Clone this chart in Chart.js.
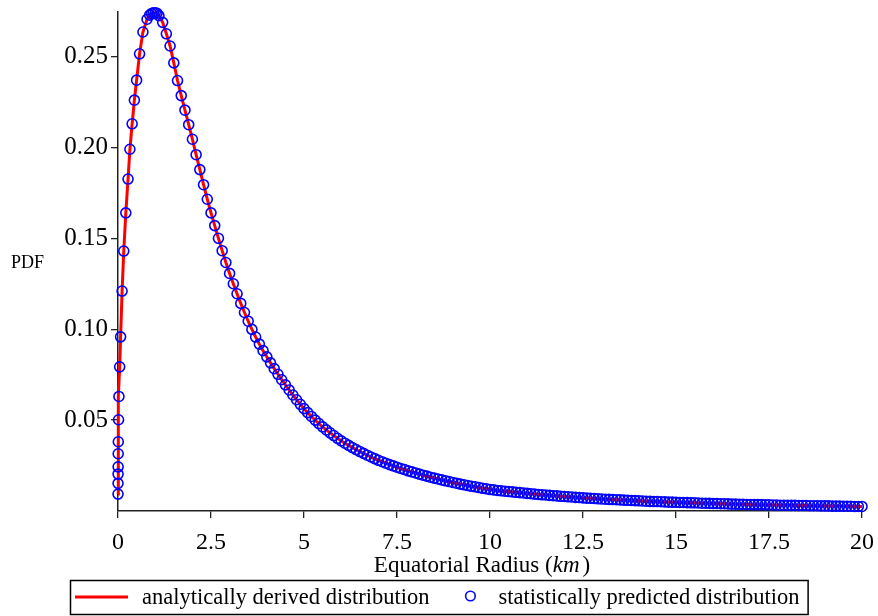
<!DOCTYPE html>
<html>
<head>
<meta charset="utf-8">
<script src="https://cdn.jsdelivr.net/npm/chart.js@4.4.1/dist/chart.umd.min.js"></script>
<style>
  html, body { margin: 0; padding: 0; background: #fff; }
</style>
</head>
<body>
<canvas id="chart" width="878" height="616"></canvas>
<script>
// radius (km) near zero and up to the peak
const radiusRise = [0.0005, 0.001, 0.002, 0.003, 0.005, 0.008, 0.015, 0.025, 0.045, 0.07,
  0.11, 0.155, 0.21, 0.27, 0.32, 0.38, 0.44, 0.50, 0.58, 0.67,
  0.78, 0.85, 0.90, 0.95, 1.0, 1.05];
const pdfRise = [0.0093, 0.0152, 0.0203, 0.0243, 0.0315, 0.0381, 0.0502, 0.063, 0.0793, 0.0958,
  0.121, 0.143, 0.164, 0.1826, 0.199, 0.213, 0.226, 0.237, 0.2515, 0.2635,
  0.2705, 0.2728, 0.2736, 0.274, 0.2741, 0.2738];

// radius (km) for the falling part and the tail
const radiusTail = [
  1.1, 1.2, 1.3, 1.4, 1.5, 1.6, 1.7, 1.8, 1.9, 2.0,
  2.1, 2.2, 2.3, 2.4, 2.5, 2.6, 2.7, 2.8, 2.9, 3.0,
  3.1, 3.2, 3.3, 3.4, 3.5, 3.6, 3.7, 3.8, 3.9, 4.0,
  4.1, 4.2, 4.3, 4.4, 4.5, 4.6, 4.7, 4.8, 4.9, 5.0,
  5.1, 5.2, 5.3, 5.4, 5.5, 5.6, 5.7, 5.8, 5.9, 6.0,
  6.1, 6.2, 6.3, 6.4, 6.5, 6.6, 6.7, 6.8, 6.9, 7.0,
  7.1, 7.2, 7.3, 7.4, 7.5, 7.6, 7.7, 7.8, 7.9, 8.0,
  8.1, 8.2, 8.3, 8.4, 8.5, 8.6, 8.7, 8.8, 8.9, 9.0,
  9.1, 9.2, 9.3, 9.4, 9.5, 9.6, 9.7, 9.8, 9.9, 10.0,
  10.1, 10.2, 10.3, 10.4, 10.5, 10.6, 10.7, 10.8, 10.9, 11.0,
  11.1, 11.2, 11.3, 11.4, 11.5, 11.6, 11.7, 11.8, 11.9, 12.0,
  12.1, 12.2, 12.3, 12.4, 12.5, 12.6, 12.7, 12.8, 12.9, 13.0,
  13.1, 13.2, 13.3, 13.4, 13.5, 13.6, 13.7, 13.8, 13.9, 14.0,
  14.1, 14.2, 14.3, 14.4, 14.5, 14.6, 14.7, 14.8, 14.9, 15.0,
  15.1, 15.2, 15.3, 15.4, 15.5, 15.6, 15.7, 15.8, 15.9, 16.0,
  16.1, 16.2, 16.3, 16.4, 16.5, 16.6, 16.7, 16.8, 16.9, 17.0,
  17.1, 17.2, 17.3, 17.4, 17.5, 17.6, 17.7, 17.8, 17.9, 18.0,
  18.1, 18.2, 18.3, 18.4, 18.5, 18.6, 18.7, 18.8, 18.9, 19.0,
  19.1, 19.2, 19.3, 19.4, 19.5, 19.6, 19.7, 19.8, 19.9, 20.0
];
const pdfTail = [
  0.2725, 0.2688, 0.2625, 0.2558, 0.2465, 0.2368, 0.2285, 0.2205, 0.2125, 0.2045,
  0.1960, 0.1878, 0.1795, 0.1715, 0.1640, 0.1570, 0.1500, 0.1432, 0.1367, 0.1307,
  0.1250, 0.1195, 0.1142, 0.1092, 0.1044, 0.0999, 0.0957, 0.0918, 0.0882, 0.0848,
  0.0815, 0.0783, 0.0752, 0.0722, 0.0694, 0.0666, 0.0638, 0.0612, 0.0587, 0.0563,
  0.0541, 0.0520, 0.0500, 0.0481, 0.0463, 0.0446, 0.0430, 0.0415, 0.0400, 0.0386,
  0.0373, 0.0361, 0.0349, 0.0338, 0.0327, 0.0317, 0.0307, 0.0297, 0.0288, 0.0279,
  0.0271, 0.0263, 0.0255, 0.0248, 0.0241, 0.0234, 0.0228, 0.0221, 0.0215, 0.0209,
  0.0203, 0.0197, 0.0192, 0.0186, 0.0181, 0.0176, 0.0171, 0.0166, 0.0162, 0.0157,
  0.0153, 0.0148, 0.0144, 0.0140, 0.0136, 0.0133, 0.0129, 0.0125, 0.0122, 0.0118,
  0.0116, 0.0113, 0.0111, 0.0109, 0.0107, 0.0105, 0.0103, 0.0101, 0.0099, 0.0097,
  0.0095, 0.0093, 0.0091, 0.0089, 0.0088, 0.0086, 0.0084, 0.0083, 0.0081, 0.0080,
  0.0078, 0.0077, 0.0075, 0.0074, 0.0072, 0.0071, 0.0070, 0.0069, 0.0067, 0.0066,
  0.0065, 0.0064, 0.0063, 0.0062, 0.0061, 0.0060, 0.0059, 0.0058, 0.0057, 0.0056,
  0.0055, 0.0054, 0.0053, 0.0052, 0.0052, 0.0051, 0.0050, 0.0049, 0.0049, 0.0048,
  0.0047, 0.0047, 0.0046, 0.0045, 0.0045, 0.0044, 0.0043, 0.0043, 0.0042, 0.0041,
  0.0041, 0.0040, 0.0040, 0.0039, 0.0038, 0.0038, 0.0037, 0.0037, 0.0036, 0.0036,
  0.0035, 0.0035, 0.0035, 0.0034, 0.0034, 0.0033, 0.0033, 0.0032, 0.0032, 0.0032,
  0.0031, 0.0031, 0.0030, 0.0030, 0.0030, 0.0029, 0.0029, 0.0029, 0.0028, 0.0028,
  0.0028, 0.0027, 0.0027, 0.0027, 0.0026, 0.0026, 0.0026, 0.0025, 0.0025, 0.0025
];

const xTicks = [0, 2.5, 5, 7.5, 10, 12.5, 15, 17.5, 20];
const xTickLabels = ['0', '2.5', '5', '7.5', '10', '12.5', '15', '17.5', '20'];
const yTicks = [0.05, 0.10, 0.15, 0.20, 0.25];
const yTickLabels = ['0.05', '0.10', '0.15', '0.20', '0.25'];

const lineLabel = 'analytically derived distribution';
const pointLabel = 'statistically predicted distribution';

const SERIF = '"Liberation Serif", "Times New Roman", serif';
const RED = '#ff0000';
const BLUE = '#0000ff';

const radius = radiusRise.concat(radiusTail);
const pdf = pdfRise.concat(pdfTail);
const points = radius.map((r, i) => ({ x: r, y: pdf[i] }));

// axis titles and the boxed legend under the plot
const extrasPlugin = {
  id: 'extras',
  afterDraw(chart) {
    const ctx = chart.ctx;
    const area = chart.chartArea;
    ctx.save();
    ctx.fillStyle = '#000';
    ctx.textBaseline = 'middle';

    // y title
    ctx.font = '18px ' + SERIF;
    ctx.textAlign = 'left';
    ctx.fillText('PDF', 11, (area.top + area.bottom) / 2 + 2);

    // x title with italic unit
    const partA = 'Equatorial Radius (';
    const partB = 'km';
    const partC = ')';
    const fs = 23;
    ctx.font = fs + 'px ' + SERIF;
    const wA = ctx.measureText(partA).width;
    const wC = ctx.measureText(partC).width;
    ctx.font = 'italic ' + fs + 'px ' + SERIF;
    const wB = ctx.measureText(partB).width + 3;
    let tx = (area.left + area.right) / 2 - 8 - (wA + wB + wC) / 2;
    const ty = 566;
    ctx.font = fs + 'px ' + SERIF;
    ctx.fillText(partA, tx, ty);
    ctx.font = 'italic ' + fs + 'px ' + SERIF;
    ctx.fillText(partB, tx + wA, ty);
    ctx.font = fs + 'px ' + SERIF;
    ctx.fillText(partC, tx + wA + wB, ty);

    // legend
    ctx.font = '22.5px ' + SERIF;
    const w1 = ctx.measureText(lineLabel).width;
    const w2 = ctx.measureText(pointLabel).width;
    const total = 5 + 53 + 14 + w1 + 41 + 28 + w2 + 8;
    const lx = Math.round((chart.width - total) / 2);
    const top = 580, h = 34, cy = top + h / 2;
    ctx.strokeStyle = '#000';
    ctx.lineWidth = 1.5;
    ctx.strokeRect(lx + 0.5, top + 0.5, total, h);

    ctx.strokeStyle = RED;
    ctx.lineWidth = 3;
    ctx.beginPath();
    ctx.moveTo(lx + 5, cy);
    ctx.lineTo(lx + 58, cy);
    ctx.stroke();
    ctx.fillText(lineLabel, lx + 72, cy + 1);

    const cx = lx + 72 + w1 + 41;
    ctx.strokeStyle = BLUE;
    ctx.lineWidth = 1.6;
    ctx.beginPath();
    ctx.arc(cx, cy - 1, 4.8, 0, Math.PI * 2);
    ctx.stroke();
    ctx.fillText(pointLabel, cx + 28, cy + 1);
    ctx.restore();
  }
};

new Chart(document.getElementById('chart'), {
  type: 'scatter',
  data: {
    datasets: [
      {
        label: pointLabel,
        data: points,
        showLine: false,
        pointStyle: 'circle',
        pointRadius: 5,
        pointBorderWidth: 1.6,
        borderColor: BLUE,
        backgroundColor: 'rgba(0,0,0,0)',
        clip: false,
        order: 0
      },
      {
        label: lineLabel,
        data: points,
        showLine: true,
        borderColor: RED,
        borderWidth: 3,
        pointRadius: 0,
        tension: 0,
        clip: false,
        order: 1
      }
    ]
  },
  options: {
    responsive: false,
    animation: false,
    layout: { padding: { top: 12, right: 16, left: 0, bottom: 0 } },
    plugins: {
      legend: { display: false },
      tooltip: { enabled: false }
    },
    scales: {
      x: {
        type: 'linear',
        min: 0,
        max: 20,
        afterBuildTicks: s => { s.ticks = xTicks.map(v => ({ value: v })); },
        afterFit: s => { s.height = 105; s.paddingLeft = 0; s.paddingRight = 0; },
        ticks: {
          color: '#000',
          font: { family: SERIF, size: 24 },
          padding: 10,
          maxRotation: 0,
          autoSkip: false,
          callback: (v, i) => xTickLabels[i]
        },
        grid: { drawOnChartArea: false, drawTicks: true, tickLength: 7, color: '#222', lineWidth: 1.3 },
        border: { display: true, color: '#222', width: 1.5 }
      },
      y: {
        type: 'linear',
        min: 0,
        max: 0.2745,
        afterBuildTicks: s => { s.ticks = yTicks.map(v => ({ value: v })); },
        afterFit: s => { s.width = 118; s.paddingTop = 0; s.paddingBottom = 0; },
        ticks: {
          color: '#000',
          font: { family: SERIF, size: 25 },
          padding: 3,
          autoSkip: false,
          callback: (v, i) => yTickLabels[i]
        },
        grid: { drawOnChartArea: false, drawTicks: true, tickLength: 7, color: '#222', lineWidth: 1.3 },
        border: { display: true, color: '#222', width: 1.5 }
      }
    }
  },
  plugins: [extrasPlugin]
});
</script>
</body>
</html>
